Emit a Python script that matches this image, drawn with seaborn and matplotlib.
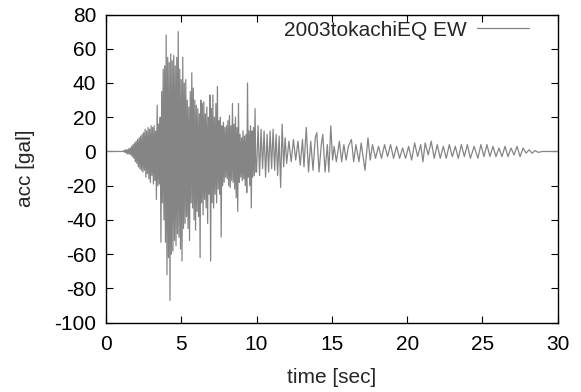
import numpy as np
import pandas as pd
import matplotlib
matplotlib.use("Agg")
import matplotlib.pyplot as plt
import seaborn as sns

# ---- data ----
# pre-event quiet part
quiet_t = [0.0, 1.2]
quiet_v = [0.0, 0.0]

# strong-motion envelope (upper / lower peak per 0.1 s, starting at 1.2 s)
dense_start = 1.2
dense_hi = [0.5, 1, 1, 1.5, 2, 3, 4, 5, 6, 7, 8, 9, 10, 11, 13, 12, 14, 13, 15, 14,
            15, 12, 27, 16, 20, 35, 48, 50, 68, 55, 52, 57, 53, 56, 50, 55, 70, 48, 42, 55,
            40, 42, 30, 26, 35, 46, 37, 30, 27, 25, 22, 30, 28, 29, 22, 26, 20, 33, 25, 33,
            20, 28, 38, 18, 20, 15, 17, 14, 15, 18, 21, 15, 28, 16, 20, 14, 28, 10, 8, 12,
            9, 10, 40, 12, 15, 12, 14, 25]
dense_lo = [-0.5, -1, -1.5, -1.5, -2, -3, -4, -6, -7, -9, -10, -11, -12, -11, -15, -13, -16, -18, -14, -19,
            -17, -28, -20, -19, -53, -30, -40, -53, -72, -62, -87, -60, -58, -52, -55, -48, -50, -57, -64, -45,
            -42, -38, -45, -52, -30, -33, -40, -46, -35, -38, -62, -30, -37, -28, -33, -42, -25, -64, -30, -33,
            -25, -30, -22, -25, -50, -20, -18, -15, -16, -20, -21, -17, -18, -22, -27, -35, -18, -15, -17, -16,
            -20, -24, -15, -20, -33, -15, -14, -12]

# later part: individual peaks (time, value)
peak_t = [10.0, 10.1, 10.2, 10.3, 10.4, 10.5, 10.6, 10.7, 10.8, 10.9,
          11.0, 11.1, 11.2, 11.3, 11.4, 11.5, 11.6, 11.7, 11.8, 11.9,
          12.0, 12.15, 12.3, 12.45, 12.6, 12.75, 12.9, 13.05, 13.15, 13.3, 13.45, 13.6, 13.75, 13.9,
          14.0, 14.15, 14.3, 14.4, 14.55, 14.7, 14.8, 14.93, 15.05, 15.15, 15.3, 15.5, 15.65, 15.8,
          15.95, 16.1, 16.3, 16.45, 16.6, 16.8, 16.95, 17.2, 17.4, 17.55, 17.7, 17.9, 18.1, 18.3,
          18.5, 18.7, 18.9, 19.1, 19.3, 19.5, 19.7, 19.9, 20.1, 20.3, 20.5, 20.7, 20.9, 21.05,
          21.2, 21.4, 21.6, 21.8, 22.0, 22.2, 22.4, 22.6, 22.8, 23.0, 23.2, 23.4, 23.6, 23.8,
          24.0, 24.2, 24.45, 24.7, 24.9, 25.1, 25.3, 25.5, 25.7, 25.9, 26.1, 26.3, 26.5, 26.7,
          26.9, 27.1, 27.3, 27.5, 27.7, 27.9, 28.1, 28.3, 28.5, 28.7, 29.0, 30.0]
peak_v = [-12, 15, -14, 13, -10, 12, -15, 10, -12, 12,
          -10, 13, -11, 10, -14, 9, -21, 16, -9, 8,
          -7, 6, -6, 7, -5, 6, -8, 7, -9, 14, -12, 6, -11, 8,
          11, -12, 4, 10, -12, 4, -12, 15, -5, 3, -6, 6, -6, 4,
          -5, 3, 7, -6, 4, -6, 5, -11, 8, -5, 4, -4, 3, -4,
          4, -3, 4, -4, 3, -4, 2, -4, 3, -5, 5, -3, 4, -6,
          5, -2, 6, -4, 4, -4, 3, -4, 4, -3, 3, -4, 4, -3,
          4, -4, 3, -4, 4, -3, 4, -3, 3, -3, 2, -3, 3, -3,
          2, -2, 3, -3, 2, -1, 1, -1, 0.5, -0.5, 0, 0]

series_label = "2003tokachiEQ EW"

# ---- assemble the trace ----
t_list = list(quiet_t)
v_list = list(quiet_v)
for i, (hi, lo) in enumerate(zip(dense_hi, dense_lo)):
    t0 = dense_start + 0.1 * i
    t_list += [t0, t0 + 0.05]
    v_list += [hi, lo]
t_list += peak_t
v_list += peak_v
df = pd.DataFrame({"time": t_list, "acc": v_list})

# ---- plot ----
sns.set_style("ticks")
plt.rcParams["font.family"] = ["Liberation Sans", "DejaVu Sans"]
plt.rcParams["axes.unicode_minus"] = False

fig = plt.figure(figsize=(5.81, 3.92), dpi=100)
ax = fig.add_axes([0.1824, 0.1768, 0.7775, 0.7862])

sns.lineplot(data=df, x="time", y="acc", ax=ax, estimator=None, sort=False,
             color="#858585", linewidth=0.9, label=series_label)

ax.set_xlim(0, 30)
ax.set_ylim(-100, 80)
ax.set_xticks(range(0, 31, 5))
ax.set_yticks(range(-100, 81, 20))
ax.tick_params(direction="in", top=True, right=True, length=5, width=0.8,
               labelsize=15, colors="black")
ax.tick_params(axis="x", pad=9)
ax.tick_params(axis="y", pad=7)
for s in ax.spines.values():
    s.set_visible(True)
    s.set_linewidth(1.0)
    s.set_color("black")

ax.set_xlabel("time [sec]", fontsize=15, labelpad=10)
ax.set_ylabel("acc [gal]", fontsize=15, labelpad=14)

leg = ax.legend(loc="upper right", frameon=False, markerfirst=False,
                fontsize=15, handlelength=2.5, borderaxespad=0.0, borderpad=0.3,
                handletextpad=0.5, bbox_to_anchor=(1 - 22 / 452, 1.0))

fig.savefig("out.png", dpi=100)
